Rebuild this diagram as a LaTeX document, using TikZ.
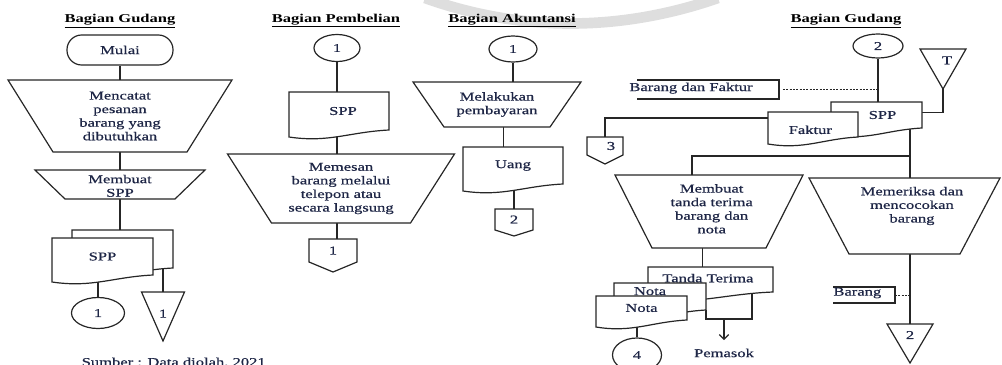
\documentclass[tikz,border=0pt]{standalone}
\usepackage{fontspec}
\setmainfont[FakeStretch=1.38]{Liberation Serif}
\newfontfamily\isi[FakeStretch=1.38, FakeBold=0.6]{Liberation Serif}
\usetikzlibrary{shapes.geometric,arrows.meta,backgrounds}

\definecolor{tinta}{RGB}{30,38,70}
\definecolor{bayang}{RGB}{222,222,222}

% Dokumen: [opsi teks]{nama}{x kiri}{y atas}{lebar}{tinggi kanan}{teks}
\newcommand\dokumen[7][]{%
  \draw[bentuk] (#3,#4) -- (#3+#5,#4) -- (#3+#5,#4+#6)
    .. controls (#3+0.6*#5,#4+#6+2) and (#3+0.4*#5,#4+#6+13) .. (#3,#4+#6+7) -- cycle;
  \node[kotak, minimum width=#5*0.75pt, minimum height=#6*0.75pt,
    label={[teks,#1]center:#7}] (#2) at (#3+#5/2,#4+#6/2) {};
}
% Proses manual: [opsi teks]{nama}{x tengah}{y atas}{lebar atas}{lebar bawah}{tinggi}{teks}
\newcommand\proses[8][]{%
  \draw[bentuk] (#3-#5/2,#4) -- (#3+#5/2,#4) -- (#3+#6/2,#4+#7) -- (#3-#6/2,#4+#7) -- cycle;
  \node[kotak, minimum width=#6*0.75pt, minimum height=#7*0.75pt,
    label={[teks,#1]center:#8}] (#2) at (#3,#4+#7/2) {};
}
% Penghubung lain halaman: [opsi teks]{nama}{x tengah}{y atas}{lebar}{tinggi sisi}{tinggi}{teks}
\newcommand\offpage[8][]{%
  \draw[bentuk] (#3-#5/2,#4) -- (#3+#5/2,#4) -- (#3+#5/2,#4+#6) -- (#3,#4+#7) -- (#3-#5/2,#4+#6) -- cycle;
  \node[kotak, minimum width=#5*0.75pt, minimum height=#6*0.75pt,
    label={[teks,#1]center:#8}] (#2) at (#3,#4+#6/2) {};
}
% Arsip: [opsi teks]{nama}{x tengah}{y atas}{lebar}{tinggi}{teks}
\newcommand\arsip[7][]{%
  \draw[bentuk] (#3-#5/2,#4) -- (#3+#5/2,#4) -- (#3,#4+#6) -- cycle;
  \coordinate (#2-p) at (#3,#4+#6);
  \node[teks,#1] (#2) at (#3,#4+#6/3) {#7};
}
% Keterangan: [opsi teks]{nama}{x kiri}{y atas}{lebar}{tinggi}{teks}
\newcommand\ket[7][]{%
  \draw[garis] (#3,#4) -- (#3+#5,#4) -- (#3+#5,#4+#6) -- (#3,#4+#6);
  \coordinate (#2-k) at (#3+#5,#4+#6/2);
  \node[kotak, minimum width=#5*0.75pt, minimum height=#6*0.75pt,
    label={[teks,#1]center:#7}] (#2) at (#3+#5/2,#4+#6/2) {};
}

\begin{document}
\begin{tikzpicture}[x=0.75pt, y=-0.75pt,
    garis/.style={draw=black!85, line width=0.9pt},
    bentuk/.style={garis, fill=white},
    putus/.style={draw=black!85, line width=0.7pt, dash pattern=on 1.5pt off 1pt},
    kotak/.style={inner sep=0pt, outer sep=0pt},
    teks/.style={font=\isi\fontsize{9}{10.2}\selectfont, text=tinta, align=center},
    judul/.style={font=\fontsize{9}{10.2}\selectfont\bfseries, anchor=base},
    konektor/.style={ellipse, bentuk, inner sep=0pt, teks},
    terminal/.style={bentuk, rounded corners=11pt, minimum width=79.5pt, minimum height=22.5pt, teks}]
    \useasboundingbox (0,0) rectangle (1002,364);

    % Bagian Gudang (kiri)
    \node[judul] (jg1) at (120,22.5) {\underline{Bagian Gudang}};
    \node[terminal] (mulai) at (120,50) {Mulai};
    \proses{catat}{120}{80}{224}{134}{72}{Mencatat\\pesanan\\barang yang\\dibutuhkan}
    \proses[yshift=-1pt]{buat}{120}{170}{170}{110}{29}{Membuat\\SPP}
    \dokumen{spp0}{72}{230}{101}{38}{}
    \dokumen{spp1}{52}{238}{101}{37}{SPP}
    \node[konektor, minimum width=39.75pt, minimum height=23.25pt] (k1) at (98,313) {1};
    \arsip[yshift=-4pt]{ars1}{163}{292}{43}{49}{1}

    % Bagian Pembelian
    \node[judul] (jb) at (336,22) {\underline{Bagian Pembelian}};
    \node[konektor, minimum width=34.5pt, minimum height=20.25pt] (k2) at (337,48) {1};
    \dokumen[xshift=3pt]{spp2}{289}{92}{100}{38}{SPP}
    \proses{pesan}{341}{154}{227}{139}{69}{Memesan\\barang melalui\\telepon atau\\secara langsung}
    \offpage{op1}{333}{239}{48}{23}{33}{1}

    % Bagian Akuntansi
    \node[judul] (ja) at (512,22) {\underline{Bagian Akuntansi}};
    \node[konektor, minimum width=36pt, minimum height=19.5pt] (k3) at (513,49) {1};
    \proses{bayar}{497}{82}{168}{106}{45}{Melakukan\\pembayaran}
    \dokumen{uang}{463}{147}{100}{37}{Uang}
    \offpage{op2}{514}{209}{38}{21}{27}{2}

    % Bagian Gudang (kanan)
    \node[judul] (jg2) at (846,22.5) {\underline{Bagian Gudang}};
    \node[konektor, minimum width=37.5pt, minimum height=18pt] (k4) at (878,46) {2};
    \arsip[xshift=3pt, yshift=1.5pt]{arsT}{943}{49}{46}{40}{T}
    \ket[xshift=-12.75pt, yshift=1pt]{bdf}{637}{80}{142}{19}{Barang dan Faktur}
    \dokumen[xshift=4.5pt]{spp3}{831}{102}{91}{26}{SPP}
    \dokumen[yshift=-4pt, xshift=-2pt]{faktur}{768}{112}{90}{25}{Faktur}
    \offpage[xshift=4.5pt]{op3}{605}{137}{36}{18}{27}{3}
    \proses[xshift=2pt, yshift=2pt]{tanda}{709}{175}{188}{114}{73}{Membuat\\tanda terima\\barang dan\\nota}
    \proses[xshift=5.6pt, yshift=7.5pt]{periksa}{904.5}{178}{191}{111}{76}{Memeriksa dan\\mencocokan\\barang}
    \dokumen[xshift=-2pt, yshift=1pt]{tt}{648}{267}{125}{25}{Tanda Terima}
    \dokumen[xshift=-7.5pt, yshift=4pt]{nota2}{614}{283}{92}{27}{Nota}
    \dokumen{nota1}{596}{296}{91}{24}{Nota}
    \node[konektor, minimum width=36.75pt, minimum height=25.5pt] (k5) at (637,355) {4};
    \node[teks] (pemasok) at (724,353) {Pemasok};
    \ket[xshift=-5pt, yshift=1.5pt]{ketb}{833}{287}{62}{16}{Barang}
    \arsip[yshift=1.5pt]{ars2}{910}{324}{46}{39}{2}

    % Sumber
    \node[teks, anchor=base west] (sumber) at (77,366) {Sumber : Data diolah, 2021};

    % Garis alir
    \begin{scope}[on background layer]
        \draw[bayang, line width=8pt] (425,-2) .. controls (520,32) and (620,32) .. (718,-2);

        \draw[garis] (mulai) -- (catat);
        \draw[garis] (catat) -- (buat);
        \draw[garis] (buat) -- (buat |- spp0);
        \draw[garis] (k1) -- (k1 |- spp1);
        \draw[garis] (ars1) -- (ars1 |- spp0);

        \draw[garis] (k2) -- (k2 |- op1);

        \draw[garis] (k3) -- (k3 |- bayar);
        \draw[garis] ([xshift=5pt]bayar.center) -- ([xshift=5pt]bayar.center |- uang);
        \draw[garis] (op2) -- (op2 |- uang);

        \draw[garis] (k4) -- (k4 |- spp3);
        \draw[putus] ([xshift=3pt]bdf-k) -- (bdf-k -| k4);
        \draw[garis] (arsT-p) |- ([yshift=2pt]spp3.east);
        \draw[garis] ([yshift=-4.5pt]faktur.north west) -| (op3);
        \draw[garis] (ars2 |- spp3) -- (ars2);
        \coordinate (cabang) at (692,156);
        \draw[garis] (cabang -| ars2) -- (cabang) -- (cabang |- tanda);
        \draw[garis] ([xshift=-5pt]tanda.center) -- ([xshift=-5pt]tanda.center |- tt);
        \draw[garis] (nota1.east) -- (nota1.east -| nota2.east);
        \coordinate (simpul) at (752,319);
        \draw[garis] (nota2.south east) |- (simpul) -- (simpul |- tt);
        \draw[garis, -{Straight Barb[length=3.5pt, width=7pt]}] (pemasok |- simpul) -- ([yshift=3pt]pemasok.north);
        \draw[garis] (k5) -- (k5 |- nota1);
        \draw[putus] (ketb-k) -- (ketb-k -| ars2);
    \end{scope}
\end{tikzpicture}
\end{document}
